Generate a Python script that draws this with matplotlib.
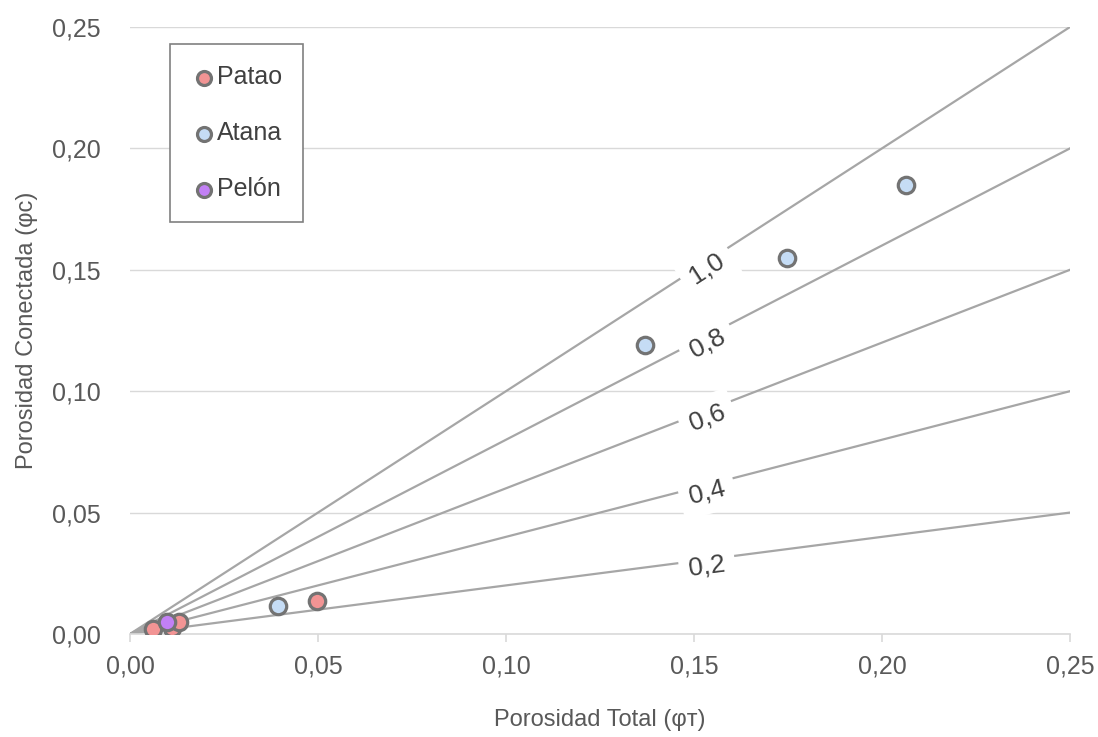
import numpy as np
import matplotlib.pyplot as plt

plt.rcParams['font.family'] = ['Liberation Sans', 'DejaVu Sans']

# Datos: porosidad total (x) y porosidad conectada (y)
patao_x = [0.0061, 0.0112, 0.0130, 0.0497]
patao_y = [0.0021, 0.0025, 0.0049, 0.0136]
atana_x = [0.0394, 0.1370, 0.1747, 0.2064]
atana_y = [0.0115, 0.1190, 0.1549, 0.1849]
pelon_x = [0.0098]
pelon_y = [0.0049]

# Relaciones φC/φT
ratios = [1.0, 0.8, 0.6, 0.4, 0.2]
ratio_labels = ["1,0", "0,8", "0,6", "0,4", "0,2"]
label_x = 0.1535

ticks = [0.0, 0.05, 0.10, 0.15, 0.20, 0.25]
tick_labels = ["0,00", "0,05", "0,10", "0,15", "0,20", "0,25"]

fig = plt.figure(figsize=(10.98, 7.37), dpi=100)
ax = fig.add_axes([0.1184, 0.1398, 0.8561, 0.8236])
ax.set_xlim(0, 0.25)
ax.set_ylim(0, 0.25)

line_color = "#a6a6a6"
grid_color = "#d9d9d9"
text_color = "#595959"

# Lineas de razon
xs = np.array([0.0, 0.25])
for r in ratios:
    ax.plot(xs, r * xs, color=line_color, linewidth=1.6, zorder=2)

# Etiquetas de las lineas, rotadas segun la pendiente en pantalla
fig.canvas.draw()
for r, lab in zip(ratios, ratio_labels):
    p0 = ax.transData.transform((0, 0))
    p1 = ax.transData.transform((0.25, 0.25 * r))
    ang = np.degrees(np.arctan2(p1[1] - p0[1], p1[0] - p0[0]))
    ax.text(label_x, r * label_x - 0.003, lab, rotation=ang, rotation_mode="anchor",
            ha="center", va="center", fontsize=19, color="#404040", zorder=3,
            bbox=dict(facecolor="white", edgecolor="none", pad=7))

# Puntos
mk = dict(s=140, edgecolors="#737373", linewidths=2.3, zorder=4)
ax.scatter(patao_x, patao_y, color="#f29494", label="Patao", **mk)
ax.scatter(atana_x, atana_y, color="#c5dcf5", label="Atana", **mk)
ax.scatter(pelon_x, pelon_y, color="#c280f5", label="Pelón", **mk)

# Ejes y rejilla
ax.set_xticks(ticks)
ax.set_xticklabels(tick_labels)
ax.set_yticks(ticks)
ax.set_yticklabels(tick_labels)
ax.yaxis.grid(True, color=grid_color, linewidth=1.0, zorder=0)
ax.set_axisbelow(True)
for s in ["top", "right", "left"]:
    ax.spines[s].set_visible(False)
ax.spines["bottom"].set_color(grid_color)
ax.spines["bottom"].set_linewidth(1.2)
ax.tick_params(axis="x", direction="out", length=6, color=grid_color, width=1.2,
               labelsize=18, labelcolor=text_color, pad=9)
ax.tick_params(axis="y", length=0, labelsize=18, labelcolor=text_color, pad=21)

ax.set_xlabel("Porosidad Total (φᴛ)", fontsize=17, color=text_color, labelpad=22)
ax.set_ylabel("Porosidad Conectada (φᴄ)", fontsize=17, color=text_color, labelpad=10)

leg = ax.legend(loc="upper left", bbox_to_anchor=(0.043, 0.972), fontsize=18,
                labelspacing=1.28, handletextpad=0.0, handlelength=1.0,
                borderpad=0.85, borderaxespad=0, markerscale=0.85,
                fancybox=False, framealpha=1)
leg.get_frame().set_edgecolor("#808080")
leg.get_frame().set_linewidth(1.2)
for t in leg.get_texts():
    t.set_color("#404040")

fig.savefig("out.png", dpi=100)
